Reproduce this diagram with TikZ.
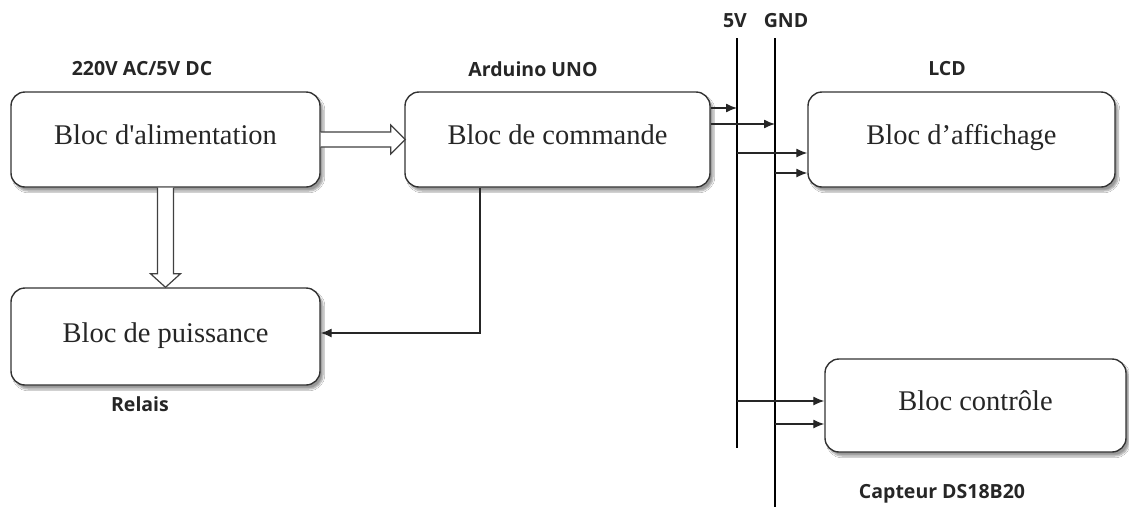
\documentclass[tikz,border=0pt]{standalone}
\usepackage{fontspec}
\newfontfamily\boxfont{Liberation Serif}
\newfontfamily\labfont{Open Sans}
\usetikzlibrary{arrows.meta,calc,shadows.blur}
\begin{document}
\begin{tikzpicture}[x=1pt,y=-1pt,
  blk/.style={draw=black!80, line width=1.4pt, rounded corners=14pt, fill=white,
    blur shadow={shadow xshift=3pt, shadow yshift=-4pt, shadow blur steps=6, shadow opacity=40},
    inner sep=0pt, font=\boxfont\fontsize{28.5}{31}\selectfont, text=black!85},
  lab/.style={font=\labfont\bfseries\fontsize{19.5}{22}\selectfont, text=black!85, inner sep=0pt},
  arr/.style={line width=1.3pt, draw=black!85, -{Latex[length=11pt,width=9pt]}},
  bus/.style={line width=2.6pt, draw=black},
  hollow/.style={draw=black!75, line width=1.2pt, fill=white, line join=miter}
]
\useasboundingbox (0,0) rectangle (1129,507);
\fill[white] (0,0) rectangle (1129,507);

% blocks
\node[blk, minimum width=309pt, minimum height=95pt] (alim) at (165.5,139.5) {\raisebox{9pt}{Bloc d'alimentation}};
\node[blk, minimum width=305pt, minimum height=95pt] (cmd) at (557.5,139.5) {\raisebox{9pt}{Bloc de commande}};
\node[blk, minimum width=309pt, minimum height=97pt] (puis) at (165.5,336.5) {\raisebox{7pt}{Bloc de puissance}};
\node[blk, minimum width=307pt, minimum height=95pt] (aff) at (961.5,139.5) {\raisebox{10pt}{Bloc d’affichage}};
\node[blk, minimum width=301pt, minimum height=93pt] (ctrl) at (975.5,405.5) {\raisebox{10pt}{Bloc contrôle}};

% labels
\node[lab] (l1) at (142,69) {220V AC/5V DC};
\node[lab] (l2) at (533,69) {Arduino UNO};
\node[lab] (l3) at (735,21) {5V};
\node[lab] (l4) at (786,21) {GND};
\node[lab] (l5) at (947,69) {LCD};
\node[lab] (l6) at (140,404) {Relais};
\node[lab] (l7) at (942,494) {Capteur DS18B20};

% buses
\coordinate (v5t) at (737,38);
\coordinate (v5b) at (737,448);
\coordinate (gt) at (775,38);
\coordinate (gb) at (775,507);
\draw[bus] (v5t) -- (v5b);
\draw[bus] (gt) -- (gb);

% hollow arrows
\draw[hollow] ($(alim.east)+(0,-7.5)$) -- ++(70,0) -- ++(0,-7) -- ($(cmd.west)+(1,0)$) -- ($(alim.east)+(70,14.5)$) -- ++(0,-7) -- ($(alim.east)+(0,7.5)$);
\draw[hollow] ($(alim.south)+(-8,0)$) -- ++(0,86) -- ++(-7,0) -- ($(puis.north)+(0,0)$) -- ($(alim.south)+(15,86)$) -- ++(-7,0) -- ($(alim.south)+(8,0)$);

% commande -> puissance
\coordinate (c1) at (480,333);
\draw[arr] (cmd.south -| c1) -- (c1) -- (puis.east |- c1);

% commande -> buses
\draw[arr] (cmd.east |- 0,108) -- (v5t |- 0,108);
\draw[arr] (cmd.east |- 0,124) -- (gt |- 0,124);
\draw[arr] (v5t |- 0,153) -- (aff.west |- 0,153);
\draw[arr] (gt |- 0,173) -- (aff.west |- 0,173);
\draw[arr] (v5t |- 0,401) -- (ctrl.west |- 0,401);
\draw[arr] (gt |- 0,424) -- (ctrl.west |- 0,424);
\end{tikzpicture}
\end{document}
